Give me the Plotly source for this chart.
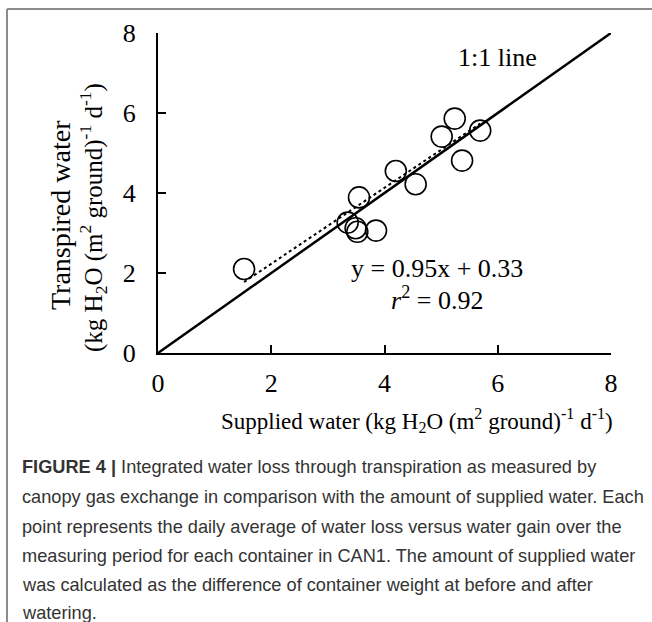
import plotly.graph_objects as go

# Data
supplied = [1.52, 3.35, 3.55, 3.49, 3.52, 3.85, 4.20, 4.55, 5.01, 5.24, 5.37, 5.69]
transpired = [2.10, 3.26, 3.89, 3.12, 3.03, 3.06, 4.55, 4.22, 5.41, 5.86, 4.81, 5.56]
slope = 0.95
intercept = 0.33
r2 = 0.92
tick_values = [0, 2, 4, 6, 8]
one_to_one = [0, 8]

caption_lines = [
    "<b>FIGURE 4 |</b> Integrated water loss through transpiration as measured by",
    "canopy gas exchange in comparison with the amount of supplied water. Each",
    "point represents the daily average of water loss versus water gain over the",
    "measuring period for each container in CAN1. The amount of supplied water",
    "was calculated as the difference of container weight at before and after",
    "watering.",
]

W, H = 652, 622
ML, MR, MT, MB = 158, 41, 33, 269
PW = W - ML - MR
PH = H - MT - MB


def px(x):
    return (x - ML) / PW


def py(y):
    return (H - MB - y) / PH


SERIF = "Liberation Serif, Times New Roman, serif"
SANS = "Liberation Sans, Arial, sans-serif"

fig = go.Figure()

fig.add_trace(go.Scatter(
    x=one_to_one, y=one_to_one, mode="lines",
    line=dict(color="black", width=2.5), showlegend=False, hoverinfo="skip"))

fx = [min(supplied), max(supplied)]
fy = [slope * v + intercept for v in fx]
fig.add_trace(go.Scatter(
    x=fx, y=fy, mode="lines",
    line=dict(color="black", width=2, dash="dot"), showlegend=False, hoverinfo="skip"))

fig.add_trace(go.Scatter(
    x=supplied, y=transpired, mode="markers",
    marker=dict(symbol="circle-open", size=21, color="black", line=dict(width=1.6)),
    showlegend=False))

axis_common = dict(
    range=[0, 8], tickvals=tick_values, showline=True, linecolor="black", linewidth=2,
    ticks="inside", ticklen=8, tickwidth=2, tickcolor="black",
    showgrid=False, zeroline=False,
    tickfont=dict(family=SERIF, size=26, color="black"),
)

fig.update_xaxes(**axis_common, ticklabelstandoff=6)
fig.update_yaxes(**axis_common, ticklabelstandoff=15)

ann = []
ann.append(dict(x=6.0, y=7.38, xref="x", yref="y", text="1:1 line", showarrow=False,
                font=dict(family=SERIF, size=26, color="black")))
ann.append(dict(x=4.93, y=2.12, xref="x", yref="y",
                text=f"y = {slope:.2f}x + {intercept:.2f}", showarrow=False,
                font=dict(family=SERIF, size=26, color="black")))
ann.append(dict(x=4.93, y=1.37, xref="x", yref="y",
                text=f"<i>r</i><sup>2</sup> = {r2:.2f}", showarrow=False,
                font=dict(family=SERIF, size=26, color="black")))
ann.append(dict(x=px(417), y=py(420), xref="paper", yref="paper",
                xanchor="center", yanchor="middle",
                text="Supplied water (kg H<sub>2</sub>O (m<sup>2</sup> ground)<sup>-1</sup> d<sup>-1</sup>)",
                showarrow=False, font=dict(family=SERIF, size=23, color="black")))
ann.append(dict(x=px(60), y=py(215), xref="paper", yref="paper", textangle=-90,
                xanchor="center", yanchor="middle",
                text="Transpired water", showarrow=False,
                font=dict(family=SERIF, size=28, color="black")))
ann.append(dict(x=px(93), y=py(218), xref="paper", yref="paper", textangle=-90,
                xanchor="center", yanchor="middle",
                text="(kg H<sub>2</sub>O (m<sup>2</sup> ground)<sup>-1</sup> d<sup>-1</sup>)",
                showarrow=False, font=dict(family=SERIF, size=25, color="black")))

cap_y = [467, 497, 527, 556, 585, 613]
for t, yy in zip(caption_lines, cap_y):
    ann.append(dict(x=px(20), y=py(yy), xref="paper", yref="paper", xanchor="left",
                    yanchor="middle", text=t, showarrow=False, align="left",
                    font=dict(family=SANS, size=18.2, color="#333333")))

shapes = [
    dict(type="line", xref="paper", yref="paper", x0=px(7), x1=px(652), y0=py(9), y1=py(9),
         line=dict(color="#8c8c8c", width=2)),
    dict(type="line", xref="paper", yref="paper", x0=px(7), x1=px(7), y0=py(9), y1=py(622),
         line=dict(color="#8c8c8c", width=2)),
]

fig.update_layout(
    width=W, height=H, margin=dict(l=ML, r=MR, t=MT, b=MB),
    paper_bgcolor="white", plot_bgcolor="white",
    annotations=ann, shapes=shapes,
)

fig.write_html("out.html")
